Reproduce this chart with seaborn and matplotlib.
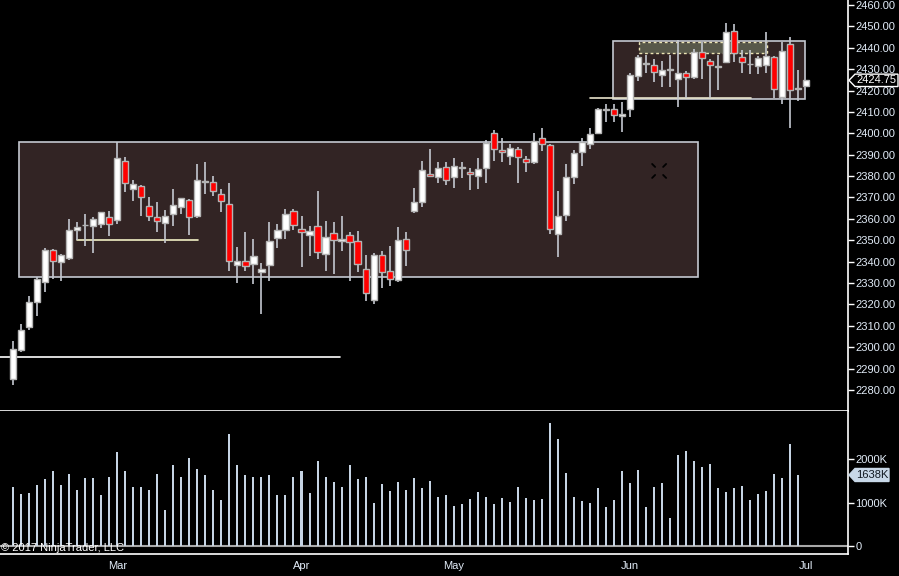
import numpy as np
import pandas as pd
import matplotlib
matplotlib.use("Agg")
import matplotlib.pyplot as plt
import seaborn as sns
from matplotlib.patches import Rectangle, Polygon
from matplotlib.transforms import blended_transform_factory

# ---- data (ES daily, Feb 9 - Jul 3 2017) ----
holidays = ['2017-02-20', '2017-04-14', '2017-05-29']
dates = pd.bdate_range('2017-02-09', '2017-07-03')
dates = dates[~dates.isin(pd.to_datetime(holidays))]

opens = [2285.3, 2298.9, 2309.3, 2321.3, 2330.3, 2345.3, 2339.7, 2341.6, 2354.7, 2357.0,
         2356.5, 2357.5, 2360.7, 2359.3, 2386.9, 2374.1, 2375.2, 2365.9, 2360.7, 2357.9,
         2362.1, 2365.4, 2368.7, 2361.2, 2377.2, 2377.1, 2371.5, 2366.8, 2338.3, 2340.2,
         2338.8, 2335.0, 2338.3, 2350.9, 2354.7, 2363.5, 2355.1, 2352.3, 2356.5, 2343.4,
         2353.2, 2349.5, 2352.3, 2349.5, 2336.4, 2321.9, 2343.0, 2335.5, 2331.3, 2350.5,
         2363.5, 2367.7, 2380.8, 2379.4, 2384.1, 2379.4, 2383.8, 2381.8, 2379.9, 2383.6,
         2400.0, 2392.1, 2389.2, 2392.5, 2387.8, 2386.4, 2397.7, 2394.4, 2352.8, 2361.7,
         2379.4, 2391.1, 2394.9, 2400.3, 2410.8, 2411.5, 2407.9, 2411.2, 2426.6, 2432.6,
         2431.8, 2427.1, 2429.8, 2425.2, 2428.0, 2426.2, 2437.9, 2433.7, 2431.1, 2433.2,
         2447.7, 2435.5, 2432.2, 2431.3, 2431.8, 2435.5, 2416.8, 2441.6, 2420.8, 2422.0]
highs = [2302.9, 2310.9, 2323.9, 2332.9, 2346.4, 2345.9, 2343.4, 2359.9, 2358.6, 2362.3,
         2360.7, 2363.3, 2363.7, 2395.8, 2388.9, 2378.2, 2375.8, 2370.2, 2367.9, 2364.2,
         2374.0, 2369.6, 2369.2, 2385.8, 2386.6, 2380.1, 2374.0, 2376.8, 2346.9, 2353.9,
         2350.6, 2339.2, 2358.5, 2357.5, 2364.5, 2364.5, 2361.2, 2356.5, 2373.0, 2358.9,
         2358.4, 2361.2, 2353.7, 2354.2, 2343.0, 2343.9, 2344.8, 2347.2, 2356.1, 2353.7,
         2374.3, 2387.1, 2392.5, 2386.4, 2386.4, 2388.3, 2386.4, 2383.6, 2388.3, 2396.7,
         2401.6, 2397.7, 2394.9, 2393.5, 2389.2, 2400.0, 2402.3, 2394.9, 2372.9, 2385.5,
         2392.1, 2397.7, 2402.3, 2412.0, 2413.6, 2413.6, 2414.5, 2428.0, 2436.5, 2436.5,
         2434.6, 2433.7, 2436.5, 2443.5, 2429.0, 2439.3, 2442.5, 2434.6, 2436.5, 2451.4,
         2450.9, 2438.8, 2438.8, 2436.0, 2447.2, 2436.0, 2442.5, 2444.9, 2429.5, 2424.8]
lows = [2282.3, 2297.9, 2308.1, 2314.8, 2326.0, 2331.7, 2331.1, 2340.8, 2350.1, 2347.3,
        2344.2, 2355.9, 2352.2, 2357.8, 2372.7, 2368.5, 2361.4, 2359.0, 2354.0, 2348.9,
        2356.8, 2362.4, 2352.6, 2360.6, 2371.5, 2370.6, 2363.4, 2335.8, 2330.2, 2335.8,
        2329.7, 2315.7, 2331.1, 2346.6, 2350.6, 2354.7, 2337.7, 2342.5, 2341.4, 2335.8,
        2334.4, 2345.2, 2331.1, 2335.3, 2321.8, 2320.4, 2327.9, 2328.8, 2330.3, 2338.1,
        2362.6, 2365.7, 2379.4, 2376.6, 2376.0, 2374.6, 2378.9, 2373.3, 2373.8, 2376.6,
        2387.2, 2386.4, 2385.0, 2376.6, 2381.8, 2385.5, 2391.6, 2352.8, 2342.3, 2358.9,
        2376.2, 2384.6, 2392.5, 2399.7, 2405.5, 2405.5, 2400.5, 2407.8, 2424.6, 2428.0,
        2423.8, 2421.5, 2421.5, 2412.5, 2416.4, 2425.2, 2425.2, 2416.4, 2420.1, 2432.7,
        2433.2, 2428.0, 2427.6, 2427.6, 2428.0, 2416.4, 2413.6, 2402.3, 2415.0, 2422.0]
closes = [2299.0, 2307.9, 2321.0, 2331.7, 2345.3, 2340.2, 2343.0, 2354.7, 2356.1, 2357.2,
          2359.8, 2363.1, 2357.5, 2388.3, 2376.6, 2376.2, 2370.1, 2361.2, 2358.9, 2361.2,
          2366.3, 2369.6, 2360.7, 2378.0, 2377.4, 2372.9, 2368.2, 2340.2, 2340.2, 2337.8,
          2342.5, 2336.4, 2349.5, 2354.7, 2362.1, 2357.0, 2353.7, 2354.2, 2344.4, 2351.4,
          2350.0, 2350.5, 2349.0, 2338.8, 2325.2, 2343.0, 2335.0, 2331.7, 2350.0, 2345.3,
          2367.7, 2382.7, 2379.9, 2383.6, 2378.0, 2384.6, 2384.0, 2380.8, 2383.2, 2395.3,
          2392.5, 2391.1, 2393.0, 2388.8, 2386.4, 2396.3, 2394.9, 2355.1, 2361.2, 2379.4,
          2390.7, 2395.8, 2399.5, 2411.2, 2411.4, 2408.4, 2408.9, 2427.1, 2435.5, 2432.8,
          2428.5, 2429.5, 2430.0, 2428.0, 2426.2, 2437.9, 2435.1, 2431.8, 2431.3, 2447.2,
          2437.4, 2433.2, 2432.4, 2435.1, 2436.0, 2420.6, 2438.3, 2420.1, 2421.0, 2424.75]

# volume in thousands of contracts (no bar yet for Jul 3)
volumes_k = [1350, 1190, 1210, 1400, 1540, 1740, 1400, 1650, 1300, 1560,
             1560, 1170, 1600, 2180, 1740, 1350, 1370, 1300, 1650, 820,
             1860, 1600, 2020, 1770, 1630, 1280, 1070, 2580, 1880, 1630,
             1600, 1600, 1630, 1170, 1170, 1580, 1720, 1210, 1950, 1600,
             1470, 1350, 1860, 1540, 1580, 980, 1440, 1260, 1470, 1280,
             1560, 1330, 1490, 1120, 1170, 920, 970, 1090, 1250, 1130,
             970, 1110, 1020, 1360, 1110, 1060, 1090, 2830, 2480, 1690,
             1130, 1040, 990, 1340, 900, 1060, 1740, 1460, 1760, 900,
             1360, 1460, 640, 2110, 2200, 1950, 1830, 1900, 1340, 1250,
             1340, 1390, 1060, 1200, 1270, 1670, 1570, 2360, 1638]

price_ticks = list(range(2280, 2461, 10))
vol_ticks = [0, 1000, 2000]
vol_tick_labels = ['0', '1000K', '2000K']

last_price = closes[-1]
last_volume = volumes_k[-1]

# ---- style ----
sns.set_theme(style="dark", rc={"axes.facecolor": "black", "figure.facecolor": "black",
                                "savefig.facecolor": "black"})
plt.rcParams['font.family'] = ['Liberation Sans', 'DejaVu Sans']
txt_color = '#e2ecf8'
fs = 8.0
tick_len = 4.3   # points, ~6 px

W, H = 899, 576
fig = plt.figure(figsize=(W / 100, H / 100), dpi=100)
right = 848.3 / W
ax = fig.add_axes([0, (H - 411) / H, right, 411 / H])
axv = fig.add_axes([0, (H - 554) / H, right, (554 - 411) / H])

x = np.arange(len(dates))
xmin, xmax = -1.66, 104.3
px_x = 1 / 8.004   # index units per pixel
px_y = 1 / 2.139   # price units per pixel

# ---- drawing objects (rectangles, lines) ----
ax.add_patch(Rectangle((0.75, 2332.8), 85.5 - 0.75, 2395.95 - 2332.8,
                       facecolor='#322424', edgecolor='#c4c8d0', lw=1.2, zorder=1))
ax.add_patch(Rectangle((74.97, 2416.1), 98.95 - 74.97, 2443.1 - 2416.1,
                       facecolor='#322424', edgecolor='#c4c8d0', lw=1.2, zorder=1))
ax.add_patch(Rectangle((78.1, 2437.4), 94.2 - 78.1, 2442.6 - 2437.4,
                       facecolor='#58584a', edgecolor='#ece4b4', lw=1.0,
                       linestyle=(0, (2, 2)), zorder=1.5))
ax.plot([8.0, 23.1], [2350.0, 2350.0], color='#f2f0c4', lw=1.2, zorder=2)
ax.plot([xmin, 40.8], [2295.3, 2295.3], color='white', lw=1.2, zorder=2)
ax.plot([72.0, 92.1], [2416.4, 2416.4], color='#e8e4cc', lw=1.2, zorder=2)

# small crosshair marker
cx, cy = 80.67, 2382.4
for sx in (-1, 1):
    for sy in (-1, 1):
        ax.plot([cx + sx * 4 * px_x, cx + sx * 7 * px_x],
                [cy + sy * 4 * px_y, cy + sy * 7 * px_y],
                color='black', lw=1.3, zorder=2)

# ---- candles ----
o = np.array(opens)
h = np.array(highs)
l = np.array(lows)
c = np.array(closes)
ax.vlines(x, l, h, color='#c4c8d0', lw=1.2, zorder=3)
body_low = np.minimum(o, c)
body_h = np.maximum(np.abs(c - o), 0.35)
body_col = np.where(c >= o, 'white', '#ff0000')
ax.bar(x, body_h, bottom=body_low, width=0.76, color=body_col,
       edgecolor='#b4b4b4', linewidth=1.0, zorder=4)

ax.set_xlim(xmin, xmax)
ax.set_ylim(2270.2, 2462.3)
ax.set_xticks([])
ax.yaxis.tick_right()
ax.set_yticks(price_ticks)
ax.set_yticklabels([f"{v:.2f}" for v in price_ticks])
ax.tick_params(axis='y', direction='out', length=tick_len, width=1, color='white',
               labelcolor=txt_color, labelsize=fs, pad=0.8)
for side in ['left', 'top']:
    ax.spines[side].set_visible(False)
for side in ['right', 'bottom']:
    ax.spines[side].set_visible(True)
    ax.spines[side].set_color('white')
    ax.spines[side].set_linewidth(1.2)
ax.grid(False)

# last price flag
fx = blended_transform_factory(fig.transFigure, ax.transData)
d = 6.2 * px_y
pts = [(849 / W, last_price), (855 / W, last_price + d), (898 / W, last_price + d),
       (898 / W, last_price - d), (855 / W, last_price - d)]
ax.add_patch(Polygon(pts, closed=True, facecolor='black', edgecolor='white', lw=1,
                     transform=fx, clip_on=False, zorder=10))
ax.text(876.5 / W, last_price, f"{last_price:.2f}", transform=fx, color='white',
        fontsize=fs, ha='center', va='center', zorder=11, clip_on=False)

# ---- volume ----
vdf = pd.DataFrame({'idx': x[:len(volumes_k)], 'vol': volumes_k})
sns.barplot(data=vdf, x='idx', y='vol', native_scale=True, width=0.25,
            color='#c6d4e4', saturation=1, linewidth=0, errorbar=None, ax=axv)
axv.axhline(0, color='#a8a8a8', lw=1.5, zorder=0)
axv.set_xlim(xmin, xmax)
axv.set_ylim(-190, 3118)
axv.set_xlabel('')
axv.set_ylabel('')
axv.yaxis.tick_right()
axv.set_yticks(vol_ticks)
axv.set_yticklabels(vol_tick_labels)
month_idx = [i for i in range(1, len(dates)) if dates[i].month != dates[i - 1].month]
axv.set_xticks(month_idx)
axv.set_xticklabels([dates[i].strftime('%b') for i in month_idx])
axv.tick_params(axis='both', direction='out', length=tick_len, width=1, color='white',
                labelcolor=txt_color, labelsize=fs, pad=0.8)
for side in ['left', 'top']:
    axv.spines[side].set_visible(False)
for side in ['right', 'bottom']:
    axv.spines[side].set_visible(True)
    axv.spines[side].set_color('white')
    axv.spines[side].set_linewidth(1.2)
axv.grid(False)

fv = blended_transform_factory(fig.transFigure, axv.transData)
dv = 6.5 / 43.2 * 1000
pts = [(849 / W, last_volume), (855 / W, last_volume + dv), (889 / W, last_volume + dv),
       (889 / W, last_volume - dv), (855 / W, last_volume - dv)]
axv.add_patch(Polygon(pts, closed=True, facecolor='#c8d8e8', edgecolor='#c8d8e8', lw=1,
                      transform=fv, clip_on=False, zorder=10))
axv.text(872 / W, last_volume, f"{last_volume}K", transform=fv, color='#101820',
         fontsize=fs, ha='center', va='center', zorder=11, clip_on=False)

fig.text(1 / W, (H - 548) / H, "\u00a9 2017 NinjaTrader, LLC", color='white',
         fontsize=fs, ha='left', va='center')

fig.savefig('out.png', dpi=100, facecolor='black')
